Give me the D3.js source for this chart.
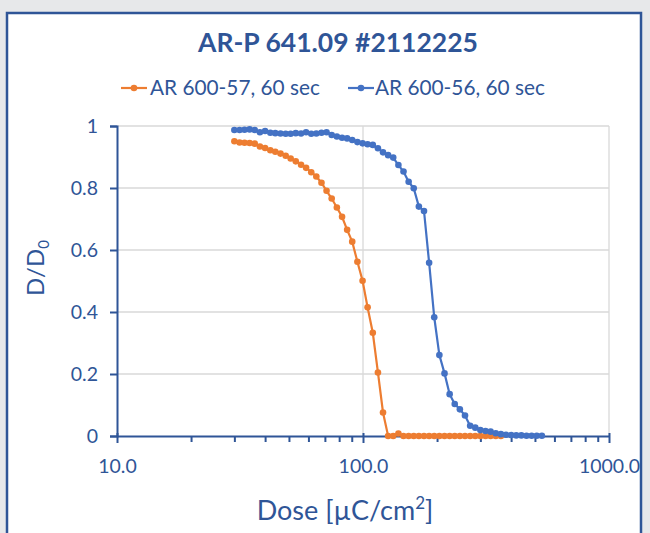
<!DOCTYPE html>
<html>
<head>
<meta charset="utf-8">
<script src="https://cdn.jsdelivr.net/npm/d3@7"></script>
<style>
  html, body { margin: 0; padding: 0; background: #e7e8ea; }
  svg { display: block; }
  text { font-family: Lato, "Open Sans", sans-serif; }
</style>
</head>
<body>
<svg id="chart" width="650" height="533"></svg>
<script>
// ---- data ----
const doses = [30.0, 31.5, 33.0, 34.6, 36.3, 38.1, 40.0, 42.0, 44.0, 46.2, 48.5, 50.8, 53.3, 56.0, 58.7, 61.6, 64.6, 67.8, 71.1, 74.6, 78.3, 82.2, 86.2, 90.4, 94.9, 99.6, 104.4, 109.6, 115.0, 120.6, 126.5, 132.7, 139.3, 146.1, 153.3, 160.8, 168.7, 177.0, 185.7, 194.8, 204.4, 214.5, 225.0, 236.0, 247.6, 259.8, 272.6, 286.0, 300.0, 314.8, 330.2, 346.4, 363.5, 381.3, 400.1, 419.7, 440.3, 462.0, 484.7, 508.5, 533.5];

const series57 = [0.951, 0.947, 0.946, 0.945, 0.943, 0.934, 0.929, 0.922, 0.917, 0.911, 0.904, 0.895, 0.886, 0.875, 0.865, 0.851, 0.837, 0.817, 0.791, 0.766, 0.737, 0.707, 0.665, 0.627, 0.562, 0.501, 0.415, 0.333, 0.205, 0.076, 0, 0, 0.008, 0, 0, 0, 0, 0, 0, 0, 0, 0, 0, 0, 0, 0, 0, 0, 0, 0, 0, 0, 0];

const series56 = [0.987, 0.987, 0.988, 0.989, 0.987, 0.980, 0.984, 0.978, 0.977, 0.976, 0.975, 0.975, 0.977, 0.976, 0.980, 0.975, 0.976, 0.978, 0.980, 0.971, 0.966, 0.962, 0.960, 0.955, 0.948, 0.944, 0.941, 0.939, 0.928, 0.915, 0.906, 0.898, 0.874, 0.853, 0.820, 0.799, 0.740, 0.726, 0.559, 0.383, 0.261, 0.202, 0.135, 0.103, 0.086, 0.066, 0.033, 0.027, 0.019, 0.016, 0.014, 0.009, 0.006, 0.004, 0.003, 0.002, 0.002, 0.001, 0.001, 0.001, 0.001];

const seriesNames = ["AR 600-57, 60 sec", "AR 600-56, 60 sec"];
const seriesColors = ["#ED7D31", "#4472C4"];
const xTickValues = [10, 100, 1000];
const xTickLabels = ["10.0", "100.0", "1000.0"];
const yTickValues = [0, 0.2, 0.4, 0.6, 0.8, 1];
const yTickLabels = ["0", "0.2", "0.4", "0.6", "0.8", "1"];
const chartTitle = "AR-P 641.09 #2112225";

// ---- drawing ----
const ink = "#2F5597";
const svg = d3.select("#chart");

svg.append("rect").attr("x", 0).attr("y", 0).attr("width", 650).attr("height", 533).attr("fill", "#e7e8ea");
svg.append("rect").attr("x", 7).attr("y", 13).attr("width", 634).attr("height", 540)
  .attr("fill", "#ffffff").attr("stroke", ink).attr("stroke-width", 2.5);

const pLeft = 117, pRight = 609, pTop = 126, pBottom = 436;
const x = d3.scaleLog().domain([10, 1000]).range([pLeft, pRight]);
const y = d3.scaleLinear().domain([0, 1]).range([pBottom, pTop]);

// gridlines
const grid = svg.append("g").attr("stroke", "#d9d9d9").attr("stroke-width", 1.3);
yTickValues.filter(v => v > 0).forEach(v => {
  grid.append("line").attr("x1", pLeft).attr("x2", pRight).attr("y1", y(v)).attr("y2", y(v));
});
xTickValues.filter(v => v > 10).forEach(v => {
  grid.append("line").attr("x1", x(v)).attr("x2", x(v)).attr("y1", pTop).attr("y2", pBottom);
});

// y axis
const yAxis = d3.axisLeft(y).tickValues(yTickValues)
  .tickFormat((d, i) => yTickLabels[i]).tickSize(7).tickPadding(12);
const gy = svg.append("g").attr("transform", `translate(${pLeft},0)`).call(yAxis);
gy.select(".domain").attr("stroke", ink).attr("stroke-width", 2);
gy.selectAll(".tick line").attr("stroke", ink).attr("stroke-width", 2);
gy.selectAll(".tick text").attr("fill", ink).attr("font-size", 19.5).attr("font-family", "Lato");

// x axis minor ticks
const minor = [];
[10, 100].forEach(dec => { for (let k = 2; k <= 9; k++) minor.push(dec * k); });
const xMinor = d3.axisBottom(x).tickValues(minor).tickFormat("").tickSize(6).tickSizeOuter(0);
const gxm = svg.append("g").attr("transform", `translate(0,${pBottom})`).call(xMinor);
gxm.select(".domain").remove();
gxm.selectAll(".tick line").attr("stroke", ink).attr("stroke-width", 2);

// x axis major
const xAxis = d3.axisBottom(x).tickValues(xTickValues)
  .tickFormat((d, i) => xTickLabels[i]).tickSize(7).tickSizeOuter(0).tickPadding(16);
const gx = svg.append("g").attr("transform", `translate(0,${pBottom})`).call(xAxis);
gx.select(".domain").attr("stroke", ink).attr("stroke-width", 2);
gx.selectAll(".tick line").attr("stroke", ink).attr("stroke-width", 2);
gx.selectAll(".tick text").attr("fill", ink).attr("font-size", 19.5).attr("font-family", "Lato");
gx.selectAll(".tick line").attr("y1", -3);

// series
const allSeries = [series57, series56];
const line = d3.line().x(d => x(d[0])).y(d => y(d[1]));
allSeries.forEach((vals, si) => {
  const pts = vals.map((v, i) => [doses[i], v]);
  const g = svg.append("g");
  g.append("path").datum(pts).attr("d", line).attr("fill", "none")
    .attr("stroke", seriesColors[si]).attr("stroke-width", 2.2);
  g.selectAll("circle").data(pts).join("circle")
    .attr("cx", d => x(d[0])).attr("cy", d => y(d[1])).attr("r", 3.3)
    .attr("fill", seriesColors[si]);
});

// title
svg.append("text").attr("x", 338).attr("y", 52).attr("text-anchor", "middle")
  .attr("font-size", 26.5).attr("font-weight", "bold").attr("fill", ink).text(chartTitle);

// legend
const legendItems = [{ x0: 121, tx: 150 }, { x0: 348, tx: 375 }];
legendItems.forEach((it, i) => {
  const g = svg.append("g");
  g.append("line").attr("x1", it.x0).attr("x2", it.x0 + 26).attr("y1", 88).attr("y2", 88)
    .attr("stroke", seriesColors[i]).attr("stroke-width", 2.2);
  g.append("circle").attr("cx", it.x0 + 13).attr("cy", 88).attr("r", 3.3).attr("fill", seriesColors[i]);
  g.append("text").attr("x", it.tx).attr("y", 95).attr("font-size", 20.8).attr("fill", ink).text(seriesNames[i]);
});

// axis titles
const yt = svg.append("text").attr("transform", "translate(44,268) rotate(-90)")
  .attr("text-anchor", "middle").attr("font-size", 24).attr("fill", ink);
yt.append("tspan").text("D/D");
yt.append("tspan").attr("font-size", 15).attr("dy", 5).text("0");

const xt = svg.append("text").attr("x", 345).attr("y", 520).attr("text-anchor", "middle")
  .attr("font-size", 27).attr("fill", ink);
xt.append("tspan").text("Dose [µC/cm");
xt.append("tspan").attr("font-size", 17).attr("dy", -11).text("2");
xt.append("tspan").attr("dy", 11).text("]");
</script>
</body>
</html>
